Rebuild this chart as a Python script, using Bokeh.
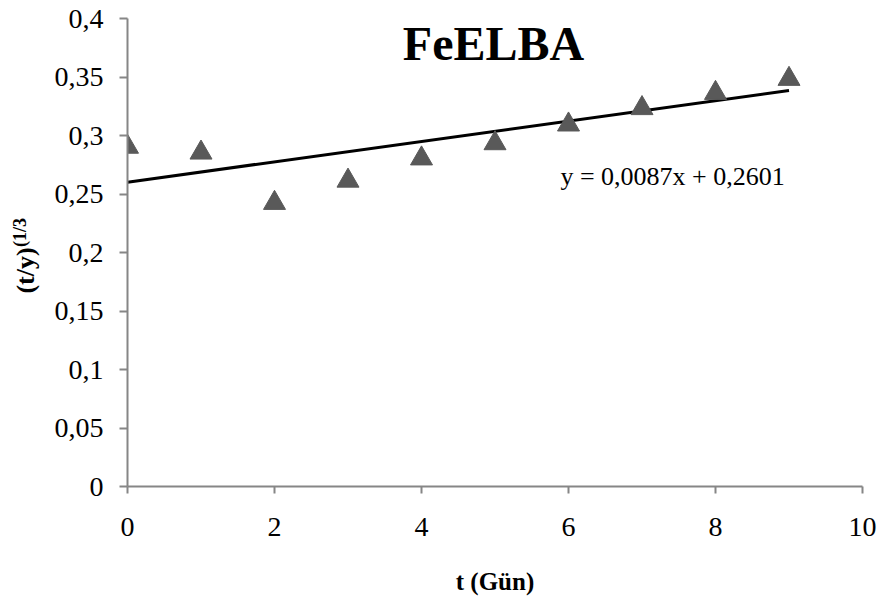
import math
from bokeh.plotting import figure
from bokeh.layouts import row
from bokeh.models import Range1d, FixedTicker, Label
from bokeh.transform import dodge
from bokeh.embed import file_html
from bokeh.resources import INLINE

# ---- data ----
days = [0, 1, 2, 3, 4, 5, 6, 7, 8, 9]
values = [0.293, 0.288, 0.245, 0.264, 0.283, 0.296, 0.312, 0.326, 0.339, 0.351]
slope = 0.0087
intercept = 0.2601
fit_x = [0, 9]
fit_y = [intercept + slope * v for v in fit_x]

x_ticks = [0, 2, 4, 6, 8, 10]
y_ticks = [0, 0.05, 0.1, 0.15, 0.2, 0.25, 0.3, 0.35, 0.4]
y_tick_labels = ["0", "0,05", "0,1", "0,15", "0,2", "0,25", "0,3", "0,35", "0,4"]

title_text = "FeELBA"
equation_text = "y = 0,0087x + 0,2601"
x_title = "t (Gün)"
y_title = "(t/y)"
y_title_sup = "(1/3"

FONT = "Liberation Serif"
AXIS_COLOR = "#868686"
LEFT_W = 40
FRAME_TOP = 18
FRAME_BOTTOM = 486
MARKER_SIZE = 22
# Bokeh centres a triangle on its centroid; shift so the box centre sits on the value
MARKER_SHIFT = -(MARKER_SIZE * math.sqrt(3) / 2) / 6 / 1168.5

# ---- left strip holding the rotated y-axis title (frame aligned with main frame) ----
lab = figure(width=LEFT_W, height=599, output_backend="svg", toolbar_location=None,
             x_range=Range1d(0, LEFT_W), y_range=Range1d(FRAME_BOTTOM, FRAME_TOP),
             min_border=0, x_axis_type=None, y_axis_type=None)
lab.outline_line_color = None
lab.xgrid.visible = False
lab.ygrid.visible = False
lab.add_layout(Label(x=25, y=270, text=y_title, text_font=FONT,
                     text_font_size="26px", text_font_style="bold",
                     text_color="black", text_align="center",
                     text_baseline="middle", angle=math.pi / 2))
lab.add_layout(Label(x=19, y=232, text=y_title_sup, text_font=FONT,
                     text_font_size="18px", text_font_style="bold",
                     text_color="black", text_align="center",
                     text_baseline="middle", angle=math.pi / 2))

# ---- main chart ----
p = figure(width=882 - LEFT_W, height=599, output_backend="svg", toolbar_location=None,
           x_range=Range1d(0, 10), y_range=Range1d(0, 0.4),
           min_border_left=127 - LEFT_W, min_border_right=20, min_border_top=FRAME_TOP,
           min_border_bottom=599 - FRAME_BOTTOM)
p.outline_line_color = None
p.xgrid.visible = False
p.ygrid.visible = False

p.xaxis.ticker = FixedTicker(ticks=x_ticks)
p.yaxis.ticker = FixedTicker(ticks=y_ticks)
p.yaxis.major_label_overrides = {t: l for t, l in zip(y_ticks, y_tick_labels)}
for ax in (p.xaxis[0], p.yaxis[0]):
    ax.axis_line_color = AXIS_COLOR
    ax.axis_line_width = 2
    ax.major_tick_line_color = AXIS_COLOR
    ax.major_tick_line_width = 2
    ax.major_tick_in = 0
    ax.minor_tick_line_color = None
    ax.major_label_text_font = FONT
    ax.major_label_text_font_size = "28px"
    ax.major_label_text_color = "black"
p.xaxis.major_tick_out = 7
p.yaxis.major_tick_out = 8
p.xaxis.major_label_standoff = 24
p.yaxis.major_label_standoff = 16

p.xaxis.axis_label = x_title
p.xaxis.axis_label_text_font = FONT
p.xaxis.axis_label_text_font_size = "25px"
p.xaxis.axis_label_text_font_style = "bold"
p.xaxis.axis_label_text_color = "black"
p.xaxis.axis_label_standoff = 29

# trend line and points
p.line(fit_x, fit_y, line_color="black", line_width=3)
src = {"day": days, "value": values}
p.scatter(x="day", y=dodge("value", MARKER_SHIFT), source=src, marker="triangle",
          size=MARKER_SIZE, fill_color="#595959", line_color="#595959")

# title
p.add_layout(Label(x=4.98, y=0.3788, text=title_text, text_font=FONT,
                   text_font_size="48px", text_font_style="bold",
                   text_color="black", text_align="center",
                   text_baseline="alphabetic"))
# equation
p.add_layout(Label(x=5.89, y=0.2651, text=equation_text, text_font=FONT,
                   text_font_size="26px", text_color="black",
                   text_align="left", text_baseline="alphabetic"))

layout = row(lab, p, spacing=0)
open("out.html", "w").write(file_html(layout, INLINE))
